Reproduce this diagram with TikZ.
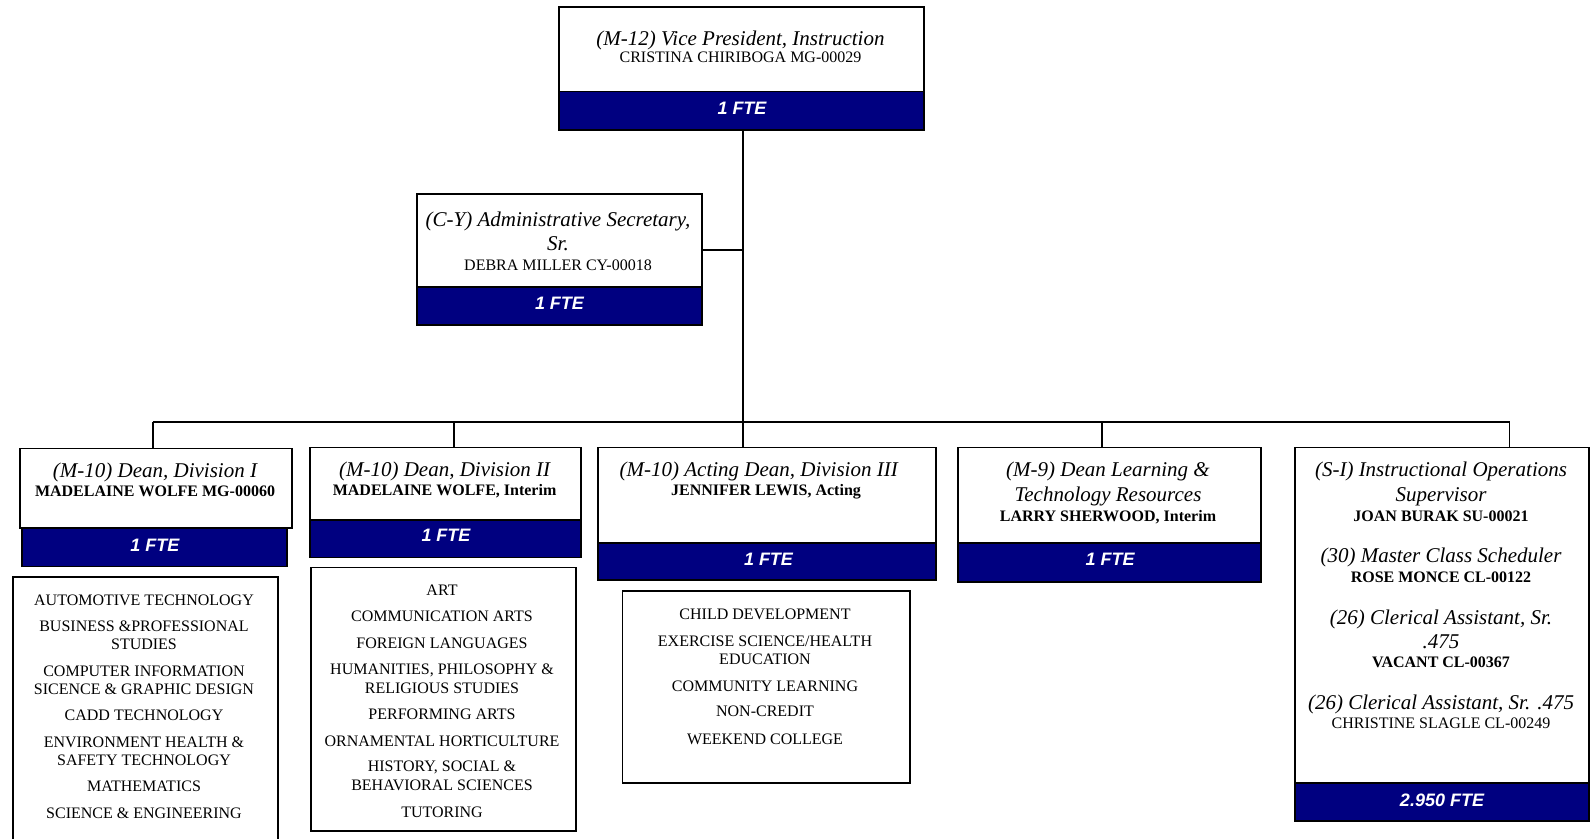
\documentclass[tikz,border=0pt]{standalone}
\usepackage{fontspec}
\setmainfont{Liberation Serif}
\newfontfamily\ftefont{Liberation Sans}
\definecolor{navyband}{RGB}{0,0,128}

\begin{document}
\begin{tikzpicture}[x=1pt,y=-1pt,
  card/.style={draw=black,line width=1.8pt,fill=white,inner sep=0pt,anchor=north west},
  band/.style={draw=black,line width=1.8pt,fill=navyband,inner sep=0pt,anchor=north west},
  wire/.style={draw=black,line width=1.8pt},
  ttl/.style={anchor=base,inner sep=0pt,font=\fontsize{21}{24}\selectfont\itshape},
  nm/.style={anchor=base,inner sep=0pt,font=\fontsize{16}{18}\selectfont},
  bnm/.style={anchor=base,inner sep=0pt,font=\fontsize{16}{18}\selectfont\bfseries},
  itm/.style={anchor=base,inner sep=0pt,font=\fontsize{16}{18}\selectfont},
  ftelbl/.style={anchor=base,inner sep=0pt,text=white,font=\ftefont\bfseries\itshape\fontsize{18}{20}\selectfont}]
\useasboundingbox (0,0) rectangle (1595,838);
\clip (0,0) rectangle (1595,838);

% branch points on the trunk and the bus
\coordinate (trunk) at (742.6,422);
\coordinate (tap) at (742.6,250);
\coordinate (s1) at (152.6,422);
\coordinate (s2) at (453.7,422);
\coordinate (s4) at (1101.6,422);
\coordinate (s5) at (1509.5,422);

% boxes
\node[card,minimum width=365pt,minimum height=84.5pt] (vp) at (558,6) {};
\node[band,minimum width=365pt,minimum height=38.5pt] (vpfte) at (558,90.5) {};
\node[card,minimum width=285pt,minimum height=93pt] (sec) at (416,193) {};
\node[band,minimum width=285pt,minimum height=38pt] (secfte) at (416,286) {};
\node[card,minimum width=271.7pt,minimum height=79.4pt] (d1) at (19.3,447.6) {};
\node[band,minimum width=264.6pt,minimum height=38.6pt] (d1fte) at (21.4,527) {};
\node[card,minimum width=265pt,minimum height=300pt] (l1) at (12,576) {};
\node[card,minimum width=271pt,minimum height=72.5pt] (d2) at (309,446.5) {};
\node[band,minimum width=271pt,minimum height=37.5pt] (d2fte) at (309,519) {};
\node[card,minimum width=265pt,minimum height=263.4pt] (l2) at (310,566.6) {};
\node[card,minimum width=338pt,minimum height=95.5pt] (d3) at (597,446.5) {};
\node[band,minimum width=338pt,minimum height=37pt] (d3fte) at (597,542) {};
\node[card,minimum width=287.5pt,minimum height=192pt] (l3) at (621.5,590) {};
\node[card,minimum width=303pt,minimum height=95.5pt] (d4) at (957,446.5) {};
\node[band,minimum width=303pt,minimum height=39pt] (d4fte) at (957,542) {};
\node[card,minimum width=294pt,minimum height=335.5pt] (sup) at (1294,446.5) {};
\node[band,minimum width=294pt,minimum height=38pt] (supfte) at (1294,782) {};

% connectors
\draw[wire] (trunk |- vpfte.south) -- (trunk |- d3.north);
\draw[wire] (tap -| sec.east) -- (tap);
\draw[wire] (s1) -- (s5);
\draw[wire] (s1) -- (s1 |- d1.north);
\draw[wire] (s2) -- (s2 |- d2.north);
\draw[wire] (s4) -- (s4 |- d4.north);
\draw[wire] (s5) -- (s5 |- sup.north);

% vice president
\node[ttl] (vpT) at (740.5,45) {(M-12) Vice President, Instruction};
\node[nm] (vpN) at (740.5,62.5) {CRISTINA CHIRIBOGA MG-00029};
\node[ftelbl] (vpF) at (742,114.4) {1 FTE};

% secretary
\node[ttl] (secT1) at (558,226) {(C-Y) Administrative Secretary,};
\node[ttl] (secT2) at (558,250) {Sr.};
\node[nm] (secN) at (558,270) {DEBRA MILLER CY-00018};
\node[ftelbl] (secF) at (559.5,309.4) {1 FTE};

% division I
\node[ttl] (d1T) at (155,477) {(M-10) Dean, Division I};
\node[bnm] (d1N) at (155,496.5) {MADELAINE WOLFE MG-00060};
\node[ftelbl] (d1F) at (155,551.4) {1 FTE};

% division II
\node[ttl] (d2T) at (444.6,476) {(M-10) Dean, Division II};
\node[bnm] (d2N) at (444.6,495.4) {MADELAINE WOLFE, Interim};
\node[ftelbl] (d2F) at (446,541.4) {1 FTE};

% division III
\node[ttl] (d3T) at (758.7,476) {(M-10) Acting Dean, Division III};
\node[bnm] (d3N) at (766,495.4) {JENNIFER LEWIS, Acting};
\node[ftelbl] (d3F) at (768.5,565.4) {1 FTE};

% learning & technology resources
\node[ttl] (d4T1) at (1108,476) {(M-9) Dean Learning \&};
\node[ttl] (d4T2) at (1108,501) {Technology Resources};
\node[bnm] (d4N) at (1108,521.4) {LARRY SHERWOOD, Interim};
\node[ftelbl] (d4F) at (1110,565.4) {1 FTE};

% instructional operations
\node[ttl] (supT1) at (1441,476) {(S-I) Instructional Operations};
\node[ttl] (supT2) at (1441,501) {Supervisor};
\node[bnm] (supN1) at (1441,521) {JOAN BURAK SU-00021};
\node[ttl] (supT3) at (1441,562) {(30) Master Class Scheduler};
\node[bnm] (supN2) at (1441,582) {ROSE MONCE CL-00122};
\node[ttl] (supT4) at (1441,624) {(26) Clerical Assistant, Sr.};
\node[ttl] (supT5) at (1441,648) {.475};
\node[bnm] (supN3) at (1441,667) {VACANT CL-00367};
\node[ttl] (supT6) at (1441,709) {(26) Clerical Assistant, Sr. .475};
\node[nm] (supN4) at (1441,728) {CHRISTINE SLAGLE CL-00249};
\node[ftelbl] (supF) at (1442,806.4) {2.950 FTE};

% departments
\foreach \yy/\txt [count=\i] in {605/AUTOMOTIVE TECHNOLOGY, 631.5/BUSINESS \&PROFESSIONAL,
  649.5/STUDIES, 676/COMPUTER INFORMATION, 694/SICENCE \& GRAPHIC DESIGN,
  720.5/CADD TECHNOLOGY, 747/ENVIRONMENT HEALTH \&, 765/SAFETY TECHNOLOGY,
  791.5/MATHEMATICS, 818/SCIENCE \& ENGINEERING}
  \node[itm] (a\i) at (144,\yy) {\txt};

\foreach \yy/\txt [count=\i] in {595.5/ART, 621.5/COMMUNICATION ARTS, 648/FOREIGN LANGUAGES,
  674.5/{HUMANITIES, PHILOSOPHY \&}, 693/RELIGIOUS STUDIES, 719.5/PERFORMING ARTS,
  746/ORNAMENTAL HORTICULTURE, 771.5/{HISTORY, SOCIAL \&}, 790.5/BEHAVIORAL SCIENCES,
  817.5/TUTORING}
  \node[itm] (b\i) at (442,\yy) {\txt};

\foreach \yy/\txt [count=\i] in {619.5/CHILD DEVELOPMENT, 646.5/{EXERCISE SCIENCE/HEALTH},
  664.5/EDUCATION, 691.5/COMMUNITY LEARNING, 716.5/NON-CREDIT, 744/WEEKEND COLLEGE}
  \node[itm] (c\i) at (765,\yy) {\txt};
\end{tikzpicture}
\end{document}
